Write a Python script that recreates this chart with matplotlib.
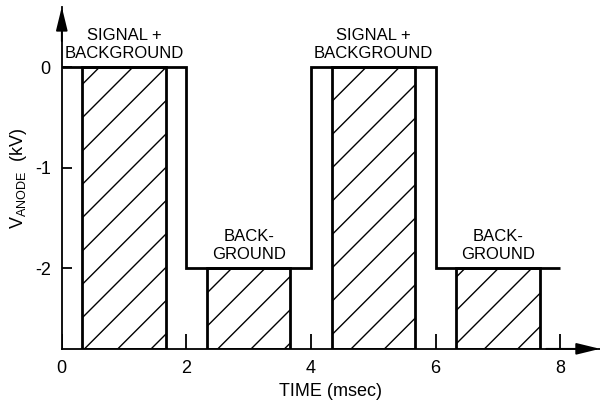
import numpy as np
import matplotlib
matplotlib.use('Agg')
import matplotlib.pyplot as plt

plt.rcParams['font.family'] = ['Liberation Sans', 'DejaVu Sans']
plt.rcParams['mathtext.fontset'] = 'custom'
plt.rcParams['mathtext.rm'] = 'Liberation Sans'
plt.rcParams['axes.unicode_minus'] = False
plt.rcParams['hatch.linewidth'] = 1.0

# Anode voltage waveform (kV) between switching times (msec)
switch_times = [0, 2, 4, 6, 8]
anode_levels = [0, -2, 0, -2]

# Integration windows (msec) and the level of each window top
window_start = [0.33, 2.33, 4.33, 6.33]
window_end = [1.67, 3.67, 5.67, 7.67]
window_level = [0, -2, 0, -2]
window_label = ['SIGNAL +\nBACKGROUND', 'BACK-\nGROUND',
                'SIGNAL +\nBACKGROUND', 'BACK-\nGROUND']

x_ticks = [0, 2, 4, 6, 8]
y_ticks = [0, -1, -2]

fig = plt.figure(figsize=(6, 4.08), dpi=100)
ax = fig.add_axes([0.103, 0.145, 0.897, 0.838])

y_min, y_max = -2.8, 0.6
ax.set_xlim(0, 8.64)
ax.set_ylim(y_min, y_max)

# Hatched windows from the axis up to the voltage level
start = np.array(window_start)
end = np.array(window_end)
level = np.array(window_level)
ax.bar((start + end) / 2, level - y_min, width=end - start, bottom=y_min,
       fill=False, hatch='/', edgecolor='black', linewidth=2, zorder=2)

# Square wave
ax.stairs(anode_levels, switch_times, baseline=None, color='black',
          linewidth=2, zorder=3)

# Window labels
for s, e, lv, lab in zip(window_start, window_end, window_level, window_label):
    ax.text((s + e) / 2, lv + 0.23, lab, ha='center', va='center',
            fontsize=12, linespacing=1.25)

# Axes with arrow heads
ax.spines['top'].set_visible(False)
ax.spines['right'].set_visible(False)
ax.spines['left'].set_linewidth(1.3)
ax.spines['bottom'].set_linewidth(1.3)
arrow = dict(arrowstyle='-|>,head_length=0.9,head_width=0.22', color='black',
             lw=1.3, shrinkA=0, shrinkB=0, mutation_scale=16)
ax.annotate('', xy=(1, 0), xytext=(0.9, 0), xycoords='axes fraction',
            arrowprops=arrow)
ax.annotate('', xy=(0, 1), xytext=(0, 0.9), xycoords='axes fraction',
            arrowprops=arrow)

# tick labels, with inward tick marks drawn as short lines
ax.set_xticks(x_ticks)
ax.set_yticks(y_ticks)
ax.tick_params(axis='x', length=0, pad=8, labelsize=13)
ax.tick_params(axis='y', length=0, pad=8, labelsize=13)
ax.vlines(x_ticks, 0, 0.042, transform=ax.get_xaxis_transform(),
          color='black', linewidth=1.3, zorder=4)
ax.hlines(y_ticks, 0, 0.019, transform=ax.get_yaxis_transform(),
          color='black', linewidth=1.3, zorder=4)

ax.set_xlabel('TIME (msec)', fontsize=13, labelpad=4)
ax.set_ylabel(r'V$_{\mathrm{ANODE}}$  (kV)', fontsize=13, labelpad=4)

plt.savefig('out.png', dpi=100)
